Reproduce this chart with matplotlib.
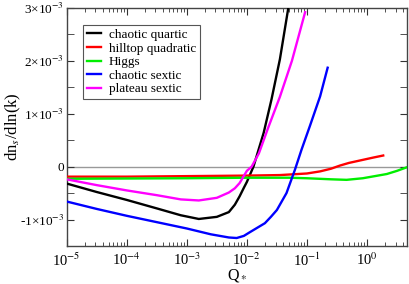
import numpy as np
import matplotlib
matplotlib.use("Agg")
import matplotlib.pyplot as plt
from matplotlib import ticker

plt.rcParams['font.family'] = ['Liberation Serif', 'DejaVu Serif']
plt.rcParams['mathtext.fontset'] = 'stix'

# ---- data (log10 Q_*, dn_s/dln k in units of 1e-3) ----
labels = ["chaotic quartic", "hilltop quadratic", "Higgs", "chaotic sextic", "plateau sextic"]
colors = ["#000000", "#ff0000", "#00ee00", "#0000ff", "#ff00ff"]

logq_quartic = [-5, -4.5, -4, -3.5, -3.1, -2.8, -2.5, -2.3, -2.2, -2.12, -2.05, -2.0,
                -1.89, -1.72, -1.59, -1.45, -1.31]
run_quartic = [-0.32, -0.48, -0.63, -0.79, -0.92, -0.99, -0.95, -0.86, -0.72, -0.56, -0.40, -0.29,
               0.0, 0.64, 1.27, 2.03, 3.0]

logq_hilltop = [-5, -4, -3, -2, -1.45, -1.0, -0.78, -0.6, -0.45, -0.3, -0.1, 0.1, 0.27]
run_hilltop = [-0.19, -0.19, -0.18, -0.17, -0.16, -0.13, -0.09, -0.04, 0.02, 0.07, 0.12, 0.17, 0.21]

logq_higgs = [-5, -3, -2, -1.3, -1.0, -0.6, -0.34, -0.07, 0.33, 0.5, 0.67]
run_higgs = [-0.23, -0.22, -0.21, -0.21, -0.22, -0.24, -0.25, -0.22, -0.14, -0.08, -0.01]

logq_sextic = [-5, -4.5, -4, -3.5, -3.0, -2.6, -2.3, -2.17, -2.05, -1.95, -1.7, -1.6, -1.5,
               -1.34, -1.2, -1.09, -0.95, -0.78, -0.655]
run_sextic = [-0.66, -0.80, -0.93, -1.05, -1.17, -1.28, -1.34, -1.35, -1.31, -1.24, -1.07, -0.95, -0.82,
              -0.5, -0.06, 0.32, 0.77, 1.33, 1.87]

logq_plateau = [-5, -4.5, -4, -3.5, -3.1, -2.8, -2.5, -2.3, -2.2, -2.12, -2.0, -1.92, -1.8,
                -1.65, -1.45, -1.25, -1.03]
run_plateau = [-0.24, -0.35, -0.45, -0.54, -0.62, -0.64, -0.59, -0.49, -0.41, -0.31, -0.08, 0.0, 0.25,
               0.72, 1.32, 2.0, 2.92]

series = [(logq_quartic, run_quartic), (logq_hilltop, run_hilltop), (logq_higgs, run_higgs),
          (logq_sextic, run_sextic), (logq_plateau, run_plateau)]

fig = plt.figure(figsize=(4.09, 2.84), dpi=100)
ax = fig.add_axes([0.163, 0.134, 0.833, 0.838])

ax.axhline(0, color='#999999', lw=1.0, zorder=1)

for (lq, rv), lab, c in zip(series, labels, colors):
    ax.plot(10.0 ** np.array(lq), np.array(rv) * 1e-3, color=c, lw=1.7, label=lab, zorder=3)

ax.set_xscale('log')
ax.set_xlim(1e-5, 4.7)
ax.set_ylim(-1.5e-3, 3e-3)

ax.xaxis.set_major_locator(ticker.LogLocator(base=10, numticks=10))
ax.xaxis.set_minor_locator(ticker.LogLocator(base=10, subs=np.arange(2, 10), numticks=20))
ax.xaxis.set_minor_formatter(ticker.NullFormatter())
ax.xaxis.set_major_formatter(ticker.FuncFormatter(lambda v, p: r'10$^{%d}$' % round(np.log10(v))))

ax.yaxis.set_major_locator(ticker.MultipleLocator(1e-3))
ax.yaxis.set_minor_locator(ticker.MultipleLocator(0.5e-3))

def yfmt(v, p):
    n = int(round(v / 1e-3))
    if n == 0:
        return '0'
    sign = '-' if n < 0 else ''
    return sign + '%d\u00d710$^{-3}$' % abs(n)
ax.yaxis.set_major_formatter(ticker.FuncFormatter(yfmt))

ax.tick_params(which='both', direction='in', top=True, right=True, colors='#333333',
               labelcolor='black')
ax.tick_params(axis='x', labelsize=10.5, pad=4)
ax.tick_params(axis='y', labelsize=9.5, pad=2)
ax.tick_params(which='major', length=5, width=0.8)
ax.tick_params(which='minor', length=3, width=0.6)
ax.tick_params(axis='y', which='minor', length=5)
for s in ax.spines.values():
    s.set_color('#444444')
    s.set_linewidth(1.0)

ax.set_xlabel(r'Q$_*$', fontsize=11.5, labelpad=-1.5)
ax.set_ylabel(r'dn$_s$/dln(k)', fontsize=12)
ax.yaxis.set_label_coords(-0.128, 0.5)

leg = ax.legend(loc='upper left', bbox_to_anchor=(0.048, 0.929), borderaxespad=0,
                fontsize=9.5, handlelength=1.1, handletextpad=0.55, labelspacing=0.1,
                borderpad=0.3, fancybox=False, framealpha=1, edgecolor='#555555')
leg.get_frame().set_linewidth(0.8)

fig.savefig('out.png', dpi=100)
